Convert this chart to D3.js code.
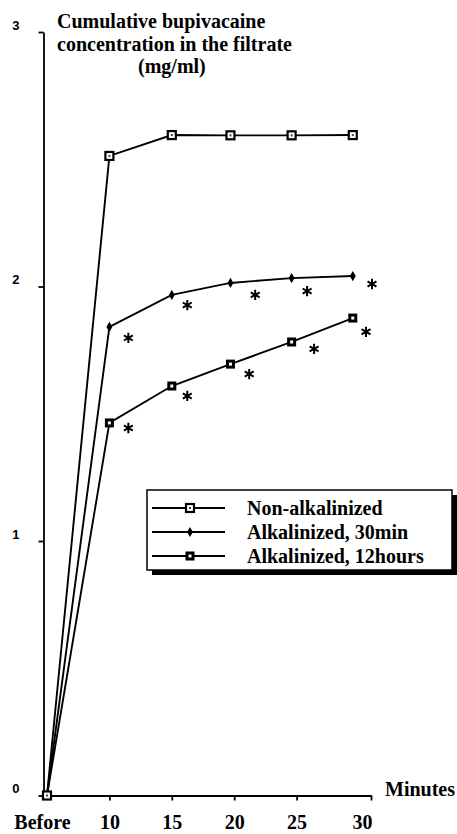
<!DOCTYPE html>
<html>
<head>
<meta charset="utf-8">
<title>Cumulative bupivacaine</title>
<script src="https://d3js.org/d3.v7.min.js"></script>
<style>
  body { margin: 0; background: #fff; }
  .serif { font-family: "Liberation Serif", "Times New Roman", serif; font-weight: bold; }
</style>
</head>
<body>
<div id="canvas"></div>
<script>
  // data (minutes; "Before" drawn at 5)
  var minutes = [5, 10, 15, 19.7, 24.6, 29.5];
  var nonAlk = [0, 2.513, 2.595, 2.594, 2.594, 2.595];
  var alk30 = [0, 1.841, 1.967, 2.014, 2.033, 2.041];
  var alk12 = [0, 1.464, 1.609, 1.695, 1.782, 1.876];
  var seriesNames = ["Non-alkalinized", "Alkalinized, 30min", "Alkalinized, 12hours"];
  var xTicks = [5, 10, 15, 20, 25, 30];
  var xTickLabels = ["Before", "10", "15", "20", "25", "30"];
  var yTicks = [0, 1, 2, 3];
  // significance asterisks [minute, value]
  var star30 = [[11.52, 1.798], [16.24, 1.927], [21.68, 1.967], [25.84, 1.982], [31.04, 2.010]];
  var star12 = [[11.52, 1.444], [16.24, 1.570], [21.2, 1.656], [26.4, 1.755], [30.56, 1.822]];
  var titleLines = ["Cumulative bupivacaine", "concentration in the filtrate", "(mg/ml)"];

  var W = 457, H = 834;
  var svg = d3.select("#canvas").append("svg")
    .attr("width", W).attr("height", H);

  var x = d3.scaleLinear().domain([4.72, 30.96]).range([43.5, 371]);
  var y = d3.scaleLinear().domain([0, 3]).range([795.5, 32]);

  // y axis
  var yAxis = svg.append("g")
    .attr("transform", "translate(43.5,0)")
    .call(d3.axisLeft(y).tickValues(yTicks).tickFormat(d3.format("d"))
      .tickSize(5).tickSizeOuter(0).tickPadding(19));
  yAxis.selectAll("path, line").attr("stroke", "#000").attr("stroke-width", 1.8);
  yAxis.selectAll("text")
    .attr("dy", "-0.22em")
    .style("font-family", "'Liberation Sans', Arial, sans-serif")
    .style("font-weight", "bold")
    .style("font-size", "13px")
    .attr("fill", "#000");

  // x axis
  var xEnd = x.domain()[1];
  var xAxis = svg.append("g")
    .attr("transform", "translate(0," + y(0) + ")")
    .call(d3.axisBottom(x)
      .tickValues(xTicks.concat([xEnd]))
      .tickFormat(function(d) { var i = xTicks.indexOf(d); return i < 0 ? "" : xTickLabels[i]; })
      .tickSize(5).tickSizeOuter(0).tickPadding(14));
  xAxis.selectAll("path, line").attr("stroke", "#000").attr("stroke-width", 1.8);
  xAxis.selectAll(".tick").filter(function(d) { return d === 5 || d === 30; })
    .select("line").remove();
  xAxis.selectAll("text")
    .attr("class", "serif")
    .style("font-size", "20px")
    .attr("fill", "#000")
    .attr("dx", function(d) { return d === 5 ? -5 : d === 30 ? 3 : 0; });

  svg.append("text").attr("class", "serif")
    .attr("x", 385).attr("y", 796)
    .style("font-size", "20px")
    .text("Minutes");

  // title
  svg.append("g").selectAll("text")
    .data(titleLines)
    .enter().append("text")
      .attr("class", "serif")
      .style("font-size", "20px")
      .attr("x", function(d, i) { return i === 2 ? 138 : 57; })
      .attr("y", function(d, i) { return 28 + i * 22.5; })
      .text(function(d) { return d; });

  // lines
  var line = d3.line()
    .x(function(d) { return x(d[0]); })
    .y(function(d) { return y(d[1]); });
  var series = [nonAlk, alk30, alk12].map(function(vals, k) {
    return { name: seriesNames[k], kind: k, pts: vals.map(function(v, i) { return [minutes[i], v]; }) };
  });

  svg.append("g").selectAll("path")
    .data(series)
    .enter().append("path")
      .attr("d", function(d) { return line(d.pts); })
      .attr("fill", "none")
      .attr("stroke", "#000")
      .attr("stroke-width", 1.9);

  function drawMarker(g, kind) {
    if (kind === 1) {
      g.append("path")
        .attr("d", d3.symbol().type(d3.symbolDiamond).size(30)())
        .attr("fill", "#000");
    } else if (kind === 0) {
      g.append("rect").attr("x", -4).attr("y", -4).attr("width", 8).attr("height", 8)
        .attr("fill", "#fff").attr("stroke", "#000").attr("stroke-width", 2.2);
      g.append("rect").attr("x", -1).attr("y", -1).attr("width", 2).attr("height", 2)
        .attr("fill", "#444");
    } else {
      g.append("rect").attr("x", -4.5).attr("y", -4.5).attr("width", 9).attr("height", 9)
        .attr("fill", "#000");
      g.append("rect").attr("x", -1.5).attr("y", -1.5).attr("width", 3).attr("height", 3)
        .attr("fill", "#fff");
    }
  }

  series.forEach(function(s) {
    svg.append("g").selectAll("g")
      .data(s.pts.slice(1))
      .enter().append("g")
        .attr("transform", function(d) { return "translate(" + x(d[0]) + "," + y(d[1]) + ")"; })
        .each(function() { drawMarker(d3.select(this), s.kind); });
  });
  // shared origin point
  drawMarker(svg.append("g").attr("transform", "translate(" + x(minutes[0]) + "," + y(0) + ")"), 0);

  // asterisks
  svg.append("g").selectAll("path")
    .data(star30.concat(star12))
    .enter().append("path")
      .attr("transform", function(d) { return "translate(" + x(d[0]) + "," + y(d[1]) + ")"; })
      .attr("d", d3.symbol().type(d3.symbolAsterisk).size(75)())
      .attr("fill", "none")
      .attr("stroke", "#000")
      .attr("stroke-width", 2);

  // legend
  var lg = svg.append("g").attr("transform", "translate(147,490)");
  lg.append("rect").attr("x", 5).attr("y", 5).attr("width", 305).attr("height", 80).attr("fill", "#000");
  lg.append("rect").attr("x", 0).attr("y", 0).attr("width", 305).attr("height", 80)
    .attr("fill", "#fff").attr("stroke", "#000").attr("stroke-width", 1.5);
  var rows = lg.selectAll("g.row")
    .data(series)
    .enter().append("g")
      .attr("class", "row")
      .attr("transform", function(d, i) { return "translate(0," + (18 + i * 24) + ")"; });
  rows.append("line").attr("x1", 5).attr("x2", 78).attr("stroke", "#000").attr("stroke-width", 1.8);
  rows.append("g").attr("transform", "translate(43,0)")
    .each(function(d) { drawMarker(d3.select(this), d.kind); });
  rows.append("text")
    .attr("class", "serif")
    .style("font-size", "20px")
    .attr("x", 100).attr("y", 7)
    .text(function(d) { return d.name; });
</script>
</body>
</html>
